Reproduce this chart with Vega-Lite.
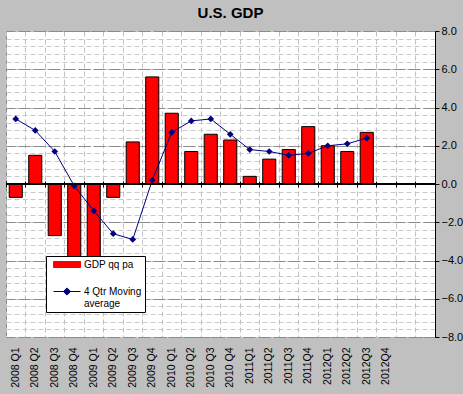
{
  "$schema": "https://vega.github.io/schema/vega-lite/v6.json",
  "width": 429,
  "height": 306,
  "autosize": {"type": "none"},
  "padding": {"left": 6, "top": 31, "right": 28, "bottom": 57},
  "background": "#C0C0C0",
  "config": {
    "view": {"fill": "white", "stroke": "#808080", "strokeWidth": 1},
    "font": "Liberation Sans"
  },
  "title": {
    "text": "U.S. GDP",
    "font": "Liberation Sans",
    "fontSize": 15,
    "fontWeight": "bold",
    "color": "black",
    "anchor": "middle",
    "dx": 10,
    "offset": 4
  },
  "data": {
    "values": [
      {"q": "2008 Q1", "gdp": -0.7, "ma": 3.4},
      {"q": "2008 Q2", "gdp": 1.5, "ma": 2.8},
      {"q": "2008 Q3", "gdp": -2.7, "ma": 1.7},
      {"q": "2008 Q4", "gdp": -6.3, "ma": -0.1},
      {"q": "2009 Q1", "gdp": -4.9, "ma": -1.4},
      {"q": "2009 Q2", "gdp": -0.7, "ma": -2.6},
      {"q": "2009 Q3", "gdp": 2.2, "ma": -2.9},
      {"q": "2009 Q4", "gdp": 5.6, "ma": 0.2},
      {"q": "2010 Q1", "gdp": 3.7, "ma": 2.7},
      {"q": "2010 Q2", "gdp": 1.7, "ma": 3.3},
      {"q": "2010 Q3", "gdp": 2.6, "ma": 3.4},
      {"q": "2010 Q4", "gdp": 2.3, "ma": 2.6},
      {"q": "2011Q1", "gdp": 0.4, "ma": 1.8},
      {"q": "2011Q2", "gdp": 1.3, "ma": 1.7},
      {"q": "2011Q3", "gdp": 1.8, "ma": 1.5},
      {"q": "2011Q4", "gdp": 3.0, "ma": 1.6},
      {"q": "2012Q1", "gdp": 2.0, "ma": 2.0},
      {"q": "2012Q2", "gdp": 1.7, "ma": 2.1},
      {"q": "2012Q3", "gdp": 2.7, "ma": 2.4}
    ]
  },
  "layer": [
    {
      "mark": {"type": "bar", "width": {"band": 0.67}, "fill": "#FF0000", "stroke": "black", "strokeWidth": 1},
      "encoding": {
        "x": {
          "field": "q",
          "type": "nominal",
          "sort": null,
          "scale": {
            "domain": ["2008 Q1","2008 Q2","2008 Q3","2008 Q4","2009 Q1","2009 Q2","2009 Q3","2009 Q4","2010 Q1","2010 Q2","2010 Q3","2010 Q4","2011Q1","2011Q2","2011Q3","2011Q4","2012Q1","2012Q2","2012Q3","2012Q4","2013Q1","2013Q2"],
            "paddingInner": 0,
            "paddingOuter": 0
          },
          "axis": {
            "orient": "bottom",
            "title": null,
            "bandPosition": 0,
            "labelOffset": 0,
            "labelAngle": 270,
            "labelAlign": "right",
            "labelBaseline": "middle",
            "labelFont": "Liberation Sans",
            "labelFontSize": 10.5,
            "labelColor": "black",
            "labelPadding": 10,
            "labelExpr": "indexof(['2013Q1','2013Q2'], datum.value) >= 0 ? '' : datum.label",
            "ticks": false,
            "domain": false,
            "grid": true,
            "gridColor": "#C0C0C0",
            "gridDash": [5, 3],
            "gridWidth": 1
          }
        },
        "y": {
          "field": "gdp",
          "type": "quantitative",
          "scale": {"domain": [-8, 8], "nice": false, "zero": false},
          "axis": {
            "orient": "right",
            "title": null,
            "labels": false,
            "ticks": false,
            "domain": false,
            "grid": true,
            "gridColor": "#C8C8C8",
            "gridDash": [5, 3],
            "values": [-8,-7.6,-7.2,-6.8,-6.4,-6,-5.6,-5.2,-4.8,-4.4,-4,-3.6,-3.2,-2.8,-2.4,-2,-1.6,-1.2,-0.8,-0.4,0,0.4,0.8,1.2,1.6,2,2.4,2.8,3.2,3.6,4,4.4,4.8,5.2,5.6,6,6.4,6.8,7.2,7.6,8]
          }
        },
        "color": {
          "datum": "GDP qq pa",
          "scale": {"domain": ["GDP qq pa", "4 Qtr Moving average"], "range": ["#FF0000", "#000080"]},
          "legend": {
            "orient": "none",
            "legendX": 40,
            "legendY": 225,
            "direction": "vertical",
            "title": null,
            "fillColor": "white",
            "strokeColor": "black",
            "padding": 3,
            "labelFont": "Liberation Sans",
            "labelFontSize": 10,
            "labelColor": "black",
            "labelOffset": 11.5,
            "symbolSize": 100,
            "symbolOffset": 12.5,
            "symbolStrokeWidth": 1,
            "symbolType": {"expr": "datum.value == 'GDP qq pa' ? 'M-2.7,-0.6H2.7V0.6H-2.7Z' : 'M-2.7,0H2.7M0,-0.72L0.72,0L0,0.72L-0.72,0Z'"},
            "rowPadding": 15,
            "labelExpr": "datum.value == '4 Qtr Moving average' ? ['4 Qtr Moving', 'average'] : datum.label",
            "encode": {
              "symbols": {
                "shape": {"value": {"expr": "datum.value == 'GDP qq pa' ? 'M-2.7,-0.6H2.7V0.6H-2.7Z' : 'M-2.7,0H2.7M0,-0.72L0.72,0L0,0.72L-0.72,0Z'"}},
                "stroke": {"value": {"expr": "datum.value == 'GDP qq pa' ? '#000000' : '#000080'"}},
                "strokeWidth": {"value": 1},
                "opacity": {"value": 1}
              },
              "labels": {
                "lineHeight": {"value": 13}
              }
            }
          }
        }
      }
    },
    {
      "mark": {"type": "line", "strokeWidth": 1, "point": {"shape": "diamond", "filled": true, "size": 45}},
      "encoding": {
        "x": {
          "field": "q",
          "type": "nominal",
          "sort": null,
          "axis": {
            "orient": "bottom",
            "title": null,
            "offset": -156,
            "bandPosition": 0,
            "labels": false,
            "domain": false,
            "grid": false,
            "ticks": true,
            "tickSize": 6,
            "tickColor": "black",
            "tickWidth": 1
          }
        },
        "y": {
          "field": "ma",
          "type": "quantitative",
          "axis": {
            "orient": "right",
            "title": null,
            "values": [-8, -6, -4, -2, 0, 2, 4, 6, 8],
            "format": ".1f",
            "labelFont": "Liberation Sans",
            "labelFontSize": 11,
            "labelColor": "black",
            "labelPadding": 2,
            "tickColor": "black",
            "tickSize": 4,
            "domain": true,
            "domainColor": "black",
            "grid": true,
            "gridColor": "#8C8C8C",
            "gridDash": [12, 3]
          }
        },
        "color": {"datum": "4 Qtr Moving average"}
      }
    },
    {
      "mark": {"type": "rule", "color": "black", "strokeWidth": 1},
      "encoding": {
        "y": {"datum": 0, "axis": null}
      }
    }
  ],
  "resolve": {"axis": {"x": "independent", "y": "independent"}}
}
